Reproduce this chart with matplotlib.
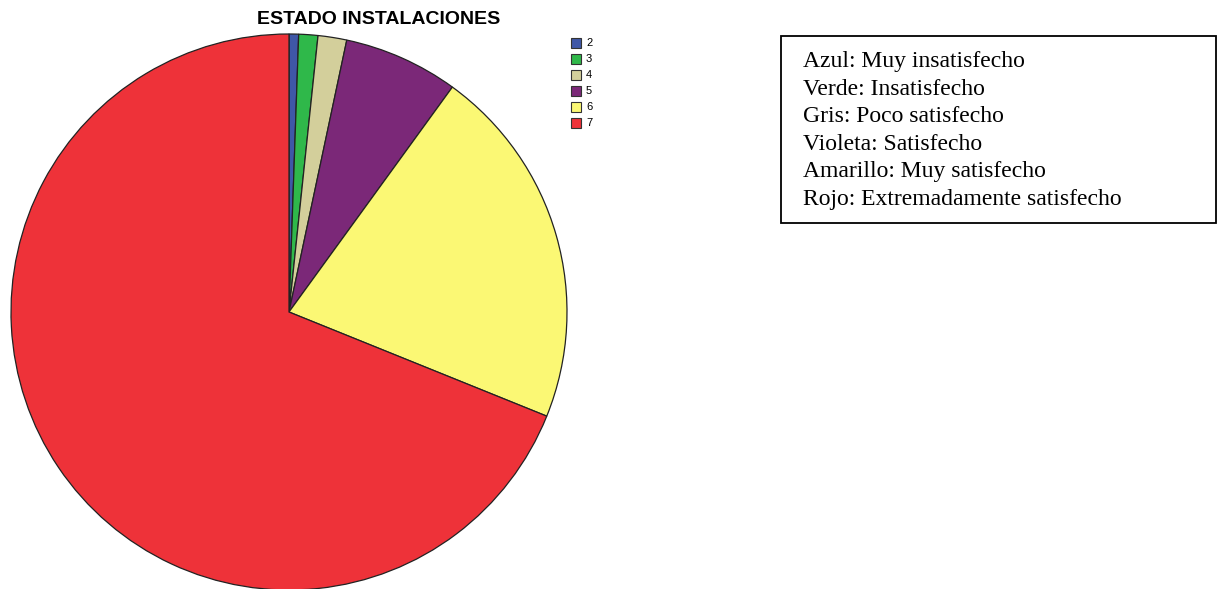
import matplotlib.pyplot as plt
from matplotlib.patches import Rectangle

# Valoraciones del estado de las instalaciones (escala 2-7)
categorias = ["2", "3", "4", "5", "6", "7"]
frecuencias = [1, 2, 3, 12, 38, 124]
colores = ["#3f57a7", "#2fb84a", "#d3cf9b", "#7b2878", "#fbf874", "#ee3239"]
descripciones = [
    "Azul: Muy insatisfecho",
    "Verde: Insatisfecho",
    "Gris: Poco satisfecho",
    "Violeta: Satisfecho",
    "Amarillo: Muy satisfecho",
    "Rojo: Extremadamente satisfecho",
]

W, H = 1218, 589
fig = plt.figure(figsize=(W / 100, H / 100), dpi=100)

# --- tarta ---
cx, cy, r = 289, 312, 278
ax = fig.add_axes([(cx - r) / W, (H - cy - r) / H, 2 * r / W, 2 * r / H])
ax.pie(frecuencias, colors=colores, startangle=90, counterclock=False,
       wedgeprops=dict(edgecolor="#222222", linewidth=0.9))
ax.set_xlim(-1, 1)
ax.set_ylim(-1, 1)
ax.set_aspect("auto")
ax.axis("off")

fig.text(379 / W, 1 - 19 / H, "ESTADO INSTALACIONES", ha="center", va="center",
         fontsize=14, fontweight="bold", family="Liberation Sans")

# --- leyenda pequeña ---
for i, (cat, col) in enumerate(zip(categorias, colores)):
    y = 43 + 16 * i
    fig.patches.append(Rectangle((571 / W, 1 - (y + 5) / H), 10 / W, 10 / H,
                                 transform=fig.transFigure, facecolor=col,
                                 edgecolor="#333333", linewidth=0.8))
    fig.text(586 / W, 1 - y / H, cat, ha="left", va="center",
             fontsize=8, family="Liberation Sans")

# --- cuadro de texto con el significado de los colores ---
fig.patches.append(Rectangle((781 / W, 1 - 223 / H), (1216 - 781) / W, (223 - 36) / H,
                             transform=fig.transFigure, facecolor="white",
                             edgecolor="black", linewidth=1.3))
for i, txt in enumerate(descripciones):
    y = 62 + 27.4 * i
    fig.text(803 / W, 1 - y / H, txt, ha="left", va="center",
             fontsize=17, family="Liberation Serif")

fig.savefig("out.png", dpi=100)
